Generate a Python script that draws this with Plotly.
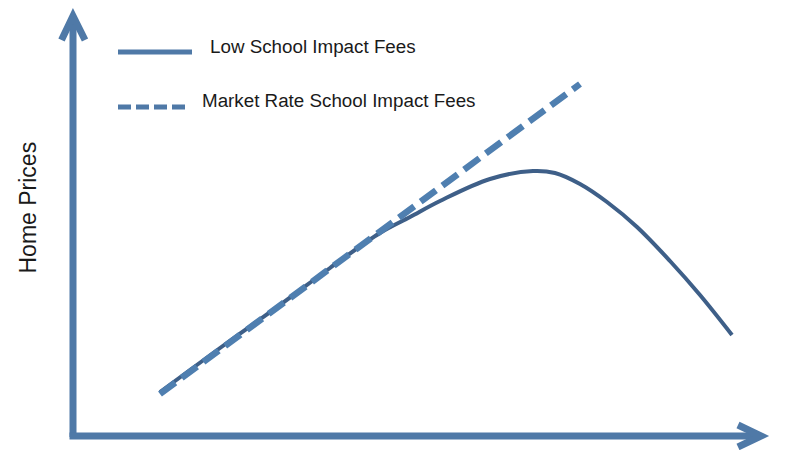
import plotly.graph_objects as go

# chart values (x = quantity, y = home price, arbitrary units)
low_fee_x = [8.7, 14.7, 20.7, 25.7, 30.7, 33.7, 36.7, 41.7, 46.0, 48.2, 50.7, 53.4, 56.4, 59.7, 62.7, 65.9]
low_fee_y = [4.4, 8.8, 13.1, 16.8, 20.3, 21.9, 23.5, 25.7, 26.5, 26.3, 25.2, 23.4, 20.9, 17.5, 14.1, 10.1]
market_fee_x = [8.7, 50.7]
market_fee_y = [4.2, 35.2]

series_names = ["Low School Impact Fees", "Market Rate School Impact Fees"]
y_label = "Home Prices"

axis_color = "#4f79a7"
solid_color = "#3e5f88"
dash_color = "#4f7fb0"
font_family = "Liberation Sans, Arial, sans-serif"

fig = go.Figure()

fig.add_trace(go.Scatter(
    x=low_fee_x, y=low_fee_y, mode="lines",
    line=dict(color=solid_color, width=4, shape="spline", smoothing=1.0),
    name=series_names[0], showlegend=False,
))
fig.add_trace(go.Scatter(
    x=market_fee_x, y=market_fee_y, mode="lines",
    line=dict(color=dash_color, width=6.5, dash="19px,8px"),
    name=series_names[1], showlegend=False,
))

shapes = [
    # y axis arrow
    dict(type="line", x0=0, y0=-0.1, x1=0, y1=41.8, line=dict(color=axis_color, width=7)),
    dict(type="path", path="M -1.15,39.6 L 0,42.0 L 1.2,39.6",
         line=dict(color=axis_color, width=7)),
    # x axis arrow
    dict(type="line", x0=-0.35, y0=0, x1=68.6, y1=0, line=dict(color=axis_color, width=7)),
    dict(type="path", path="M 66.5,1.1 L 68.8,0 L 66.5,-1.1",
         line=dict(color=axis_color, width=7)),
    # legend samples
    dict(type="line", x0=4.5, y0=38.4, x1=11.9, y1=38.4, line=dict(color=axis_color, width=5)),
    dict(type="line", x0=4.5, y0=32.9, x1=11.5, y1=32.9,
         line=dict(color=axis_color, width=5, dash="13px,5px")),
]

annotations = [
    dict(x=13.5, y=39.0, text=series_names[0], xanchor="left", yanchor="middle",
         showarrow=False, font=dict(size=18.8, color="#1a1a1a", family=font_family)),
    dict(x=12.7, y=33.6, text=series_names[1], xanchor="left", yanchor="middle",
         showarrow=False, font=dict(size=18.8, color="#1a1a1a", family=font_family)),
    dict(x=-4.55, y=22.8, text=y_label, textangle=-90, xanchor="center", yanchor="middle",
         showarrow=False, font=dict(size=23, color="#1a1a1a", family=font_family)),
]

fig.update_layout(
    width=800, height=450,
    margin=dict(l=0, r=0, t=0, b=0),
    paper_bgcolor="white", plot_bgcolor="white",
    xaxis=dict(range=[-7.3, 72.7], visible=False, fixedrange=True),
    yaxis=dict(range=[-1.4, 43.6], visible=False, fixedrange=True),
    shapes=shapes,
    annotations=annotations,
    showlegend=False,
)

# drop the page's default body margin so the figure sits at the window origin
fig.write_html("out.html", config={"displayModeBar": False},
               post_script="document.body.style.margin='0';")
